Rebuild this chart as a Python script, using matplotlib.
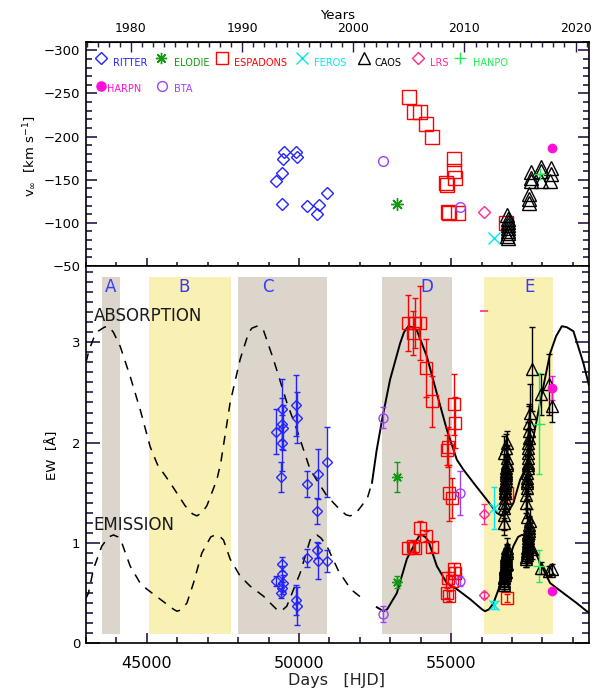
import numpy as np
import matplotlib
matplotlib.use('Agg')
from matplotlib import pyplot as plt
from matplotlib.ticker import MultipleLocator, NullFormatter

plt.rcParams['font.family'] = 'DejaVu Sans'

# ---- model curves, EW [A] against HJD-2400000 ----
abs_day = [43000, 43100, 43250, 43400, 43600, 43738, 43900, 44123, 44451, 44780,
           45108, 45350, 45766, 46259, 46500, 46643, 46800, 46972, 47300, 47430,
           47738, 48066, 48340, 48450, 48615, 48750, 48832, 49160, 49600, 49929,
           50258, 50367, 50915, 51352, 51550, 51681, 51850, 52010, 52250, 52400,
           52550, 52750, 52995, 53324, 53450, 53597, 53720, 53872, 54201, 54530,
           54858, 55187, 55405, 55733, 56172, 56500, 56610, 56720, 56880, 57048,
           57267, 57540, 57925, 58253, 58450, 58638, 58800, 59019, 59348, 59530]
abs_ew = [2.80, 2.92, 3.04, 3.11, 3.15, 3.16, 3.10, 2.96, 2.66, 2.33,
          1.96, 1.78, 1.60, 1.37, 1.29, 1.27, 1.30, 1.37, 1.63, 1.80,
          2.40, 2.83, 3.09, 3.14, 3.16, 3.15, 3.12, 2.83, 2.40, 2.13,
          1.83, 1.73, 1.47, 1.33, 1.28, 1.27, 1.29, 1.35, 1.45, 1.60,
          1.92, 2.26, 2.63, 2.99, 3.10, 3.16, 3.15, 3.12, 2.86, 2.49,
          2.13, 1.83, 1.73, 1.60, 1.43, 1.30, 1.28, 1.27, 1.31, 1.40,
          1.63, 1.80, 2.40, 2.89, 3.06, 3.16, 3.15, 3.11, 2.79, 2.57]
em_day = [43000, 43081, 43245, 43521, 43750, 43903, 44050, 44178, 44451, 44780,
          45000, 45437, 45874, 45986, 46100, 46315, 46532, 46807, 47100, 47244,
          47380, 47518, 47737, 48066, 48395, 48832, 49160, 49325, 49450, 49600,
          50038, 50366, 50480, 50586, 50720, 50915, 51300, 51700, 51900, 52118,
          52558, 52777, 52900, 53215, 53544, 53873, 53950, 54037, 54150, 54254,
          54530, 54859, 55187, 55624, 56009, 56117, 56250, 56390, 56719, 57048,
          57200, 57323, 57450, 57596, 57925, 58253, 58691, 59130, 59458, 59530]
em_ew = [0.45, 0.50, 0.74, 0.97, 1.06, 1.08, 1.06, 1.00, 0.77, 0.60,
         0.54, 0.44, 0.34, 0.32, 0.33, 0.40, 0.60, 0.90, 1.06, 1.08,
         1.07, 1.03, 0.84, 0.67, 0.57, 0.47, 0.37, 0.32, 0.33, 0.37,
         0.70, 1.03, 1.07, 1.08, 1.05, 0.97, 0.72, 0.54, 0.49, 0.44,
         0.36, 0.32, 0.34, 0.50, 0.84, 1.03, 1.07, 1.08, 1.06, 1.02,
         0.77, 0.60, 0.54, 0.44, 0.34, 0.32, 0.34, 0.40, 0.67, 0.97,
         1.06, 1.08, 1.07, 1.03, 0.80, 0.60, 0.50, 0.40, 0.32, 0.31]
model_switch = 52400   # dashed before, solid after

# ---- phases ----
phase_names = ['A', 'B', 'C', 'D', 'E']
phase_start = [43531, 45076, 48010, 52742, 56084]
phase_end = [44123, 47770, 50915, 55033, 58351]
phase_label_day = [43794, 46226, 48963, 54201, 57572]
phase_color = ['#dbd5cc', '#f9f0b3', '#dbd5cc', '#dbd5cc', '#f9f0b3']

# ---- terminal velocity (top panel) ----
ritter_vday = [49259, 49446, 49489, 49512, 49893, 49932, 49446, 50274, 50655, 50590, 50935]
ritter_v = [-149, -158, -174, -182, -182, -176, -122, -120, -121, -110, -135]
elodie_vday = [53229]
elodie_v = [-122]
esp_vday = [53609, 53787, 53991, 54168, 54372, 55100, 55095, 55118, 54878, 54835,
            54901, 54927, 55220, 56807]
esp_v = [-246, -228, -228, -214, -199, -174, -160, -152, -144, -146, -113, -111, -111, -100]
feros_vday = [56400]
feros_v = [-82]
caos_vday = [56850, 56860, 56870, 56855, 56865, 56875, 56860, 56850, 56870,
             57560, 57570, 57555, 57630, 57625, 57635, 57948, 57950, 57945,
             58266, 58270, 58262]
caos_v = [-109, -105, -101, -97, -94, -91, -88, -85, -82,
          -133, -128, -123, -159, -152, -148, -165, -160, -148,
          -163, -157, -148]
lrs_vday = [56070]
lrs_v = [-112]
hanpo_vday = [57924]
hanpo_v = [-157]
harpn_vday = [58302]
harpn_v = [-187]
bta_vday = [52745, 55282]
bta_v = [-172, -118]

# ---- equivalent widths (bottom panel) ----
ritter_day = [49250, 49440, 49445, 49480, 49440, 49420, 49900, 49920, 50260, 50590, 50620, 50920]
ritter_abs = [2.11, 2.33, 2.19, 2.15, 2.00, 1.66, 2.37, 2.25, 1.59, 1.32, 1.69, 1.81]
ritter_abs_err = [0.22, 0.30, 0.25, 0.22, 0.28, 0.15, 0.30, 0.25, 0.13, 0.13, 0.25, 0.35]
ritter_em = [0.62, 0.79, 0.69, 0.60, 0.55, 0.50, 0.43, 0.37, 0.85, 0.93, 0.82, 0.82]
ritter_em_err = [0.05, 0.07, 0.08, 0.08, 0.06, 0.05, 0.15, 0.19, 0.09, 0.08, 0.18, 0.11]

elodie_day = [53230]
elodie_abs = [1.66]
elodie_abs_err = [0.15]
elodie_em = [0.61]
elodie_em_err = [0.06]

esp_day = [53596, 53816, 53981, 53761, 54178, 54365, 55098, 55131, 54911, 54858, 54944, 55022, 56829]
esp_abs = [3.19, 3.19, 3.19, 3.09, 2.74, 2.41, 2.38, 2.20, 1.96, 1.93, 1.50, 1.45, 1.50]
esp_abs_err = [0.28, 0.25, 0.37, 0.22, 0.29, 0.25, 0.30, 0.25, 0.20, 0.15, 0.28, 0.20, 0.10]
esp_em = [0.95, 0.95, 1.15, 0.97, 1.07, 0.96, 0.74, 0.70, 0.65, 0.50, 0.47, 0.62, 0.45]
esp_em_err = [0.06, 0.05, 0.07, 0.05, 0.05, 0.05, 0.06, 0.06, 0.06, 0.05, 0.05, 0.05, 0.04]

bta_day = [52750, 55290]
bta_abs = [2.25, 1.50]
bta_abs_err = [0.10, 0.22]
bta_em = [0.29, 0.62]
bta_em_err = [0.08, 0.05]

feros_day = [56420]
feros_abs = [1.35]
feros_abs_err = [0.21]
feros_em = [0.38]
feros_em_err = [0.04]

lrs_day = [56080]
lrs_abs = [1.29]
lrs_abs_err = [0.10]
lrs_em = [0.48]
lrs_em_err = [0.03]
lrs_limit_day = [56080]
lrs_limit = [3.31]

hanpo_day = [57902]
hanpo_abs = [2.19]
hanpo_abs_err = [0.50]
hanpo_em = [0.77]
hanpo_em_err = [0.16]

harpn_day = [58308]
harpn_abs = [2.54]
harpn_abs_err = [0.12]
harpn_em = [0.52]
harpn_em_err = [0.02]

caos_day = [56725, 56735, 56745, 56750, 56760, 56765, 56770, 56775, 56780, 56785, 56790,
            56795, 56800, 56805, 56810, 56815, 56820, 56830, 56840, 56750, 56790, 56830,
            57460, 57470, 57480, 57490, 57500, 57505, 57510, 57515, 57520, 57525, 57530,
            57540, 57550, 57560, 57570, 57580, 57490, 57530,
            57670, 57948, 58308, 58230]
caos_abs = [1.20, 1.28, 1.35, 1.40, 1.45, 1.50, 1.52, 1.55, 1.58, 1.60, 1.62,
            1.65, 1.68, 1.70, 1.72, 1.75, 1.78, 1.80, 1.85, 1.90, 1.95, 2.00,
            1.40, 1.48, 1.55, 1.60, 1.65, 1.70, 1.75, 1.80, 1.85, 1.90, 1.95,
            2.00, 2.05, 2.12, 2.20, 2.30, 1.62, 1.78,
            2.73, 2.48, 2.36, 2.58]
caos_abs_err = [0.12, 0.15, 0.10, 0.18, 0.14, 0.16, 0.12, 0.20, 0.15, 0.13, 0.17,
                0.12, 0.18, 0.14, 0.16, 0.12, 0.19, 0.15, 0.13, 0.17, 0.14, 0.12,
                0.15, 0.18, 0.20, 0.16, 0.22, 0.18, 0.25, 0.20, 0.17, 0.23, 0.19,
                0.21, 0.16, 0.24, 0.18, 0.28, 0.15, 0.20,
                0.42, 0.20, 0.15, 0.30]
caos_em = [0.58, 0.60, 0.62, 0.65, 0.68, 0.70, 0.72, 0.74, 0.75, 0.76, 0.78,
           0.80, 0.82, 0.84, 0.86, 0.88, 0.90, 0.92, 0.95, 0.66, 0.71, 0.79,
           0.84, 0.86, 0.88, 0.90, 0.92, 0.95, 0.98, 1.00, 1.02, 1.05, 1.08,
           1.10, 1.12, 1.15, 1.18, 1.22, 1.26, 0.96,
           0.94, 0.75, 0.74, 0.72]
caos_em_err = [0.06, 0.08, 0.05, 0.09, 0.07, 0.10, 0.06, 0.08, 0.07, 0.09, 0.06,
               0.08, 0.10, 0.07, 0.09, 0.06, 0.08, 0.07, 0.10, 0.06, 0.08, 0.07,
               0.08, 0.10, 0.07, 0.12, 0.09, 0.08, 0.11, 0.10, 0.07, 0.12, 0.09,
               0.10, 0.08, 0.11, 0.09, 0.12, 0.08, 0.10,
               0.10, 0.06, 0.05, 0.05]

# ---- legend ----
legend_names = ['RITTER', 'ELODIE', 'ESPADONS', 'FEROS', 'CAOS', 'LRS', 'HANPO', 'HARPN', 'BTA']

c_ritter = '#2424ff'
c_elodie = '#109a10'
c_esp = '#ff0000'
c_feros = '#00e8f0'
c_caos = '#000000'
c_lrs = '#ff2a90'
c_hanpo = '#20ee50'
c_harpn = '#ff10d8'
c_bta = '#a040ff'
asterisk = (8, 2, 0)

styles = {
    'RITTER': (c_ritter, 'D', 6.0, 5.2, False),
    'ELODIE': (c_elodie, asterisk, 9.0, 7.5, False),
    'ESPADONS': (c_esp, 's', 9.5, 8.3, False),
    'FEROS': (c_feros, 'x', 8.5, 7.5, False),
    'CAOS': (c_caos, '^', 10.0, 8.6, False),
    'LRS': (c_lrs, 'D', 6.0, 5.2, False),
    'HANPO': (c_hanpo, '+', 9.0, 8.0, False),
    'HARPN': (c_harpn, 'o', 6.0, 6.0, True),
    'BTA': (c_bta, 'o', 7.0, 6.5, False),
}

top_data = {
    'RITTER': (ritter_vday, ritter_v), 'ELODIE': (elodie_vday, elodie_v),
    'ESPADONS': (esp_vday, esp_v), 'FEROS': (feros_vday, feros_v),
    'CAOS': (caos_vday, caos_v), 'LRS': (lrs_vday, lrs_v),
    'HANPO': (hanpo_vday, hanpo_v), 'HARPN': (harpn_vday, harpn_v),
    'BTA': (bta_vday, bta_v),
}
bottom_data = {
    'RITTER': (ritter_day, ritter_abs, ritter_abs_err, ritter_em, ritter_em_err),
    'ELODIE': (elodie_day, elodie_abs, elodie_abs_err, elodie_em, elodie_em_err),
    'ESPADONS': (esp_day, esp_abs, esp_abs_err, esp_em, esp_em_err),
    'BTA': (bta_day, bta_abs, bta_abs_err, bta_em, bta_em_err),
    'LRS': (lrs_day, lrs_abs, lrs_abs_err, lrs_em, lrs_em_err),
    'FEROS': (feros_day, feros_abs, feros_abs_err, feros_em, feros_em_err),
    'CAOS': (caos_day, caos_abs, caos_abs_err, caos_em, caos_em_err),
    'HANPO': (hanpo_day, hanpo_abs, hanpo_abs_err, hanpo_em, hanpo_em_err),
    'HARPN': (harpn_day, harpn_abs, harpn_abs_err, harpn_em, harpn_em_err),
}


def d2y(d):
    return 1980.0 + (np.asarray(d, dtype=float) - 44480.0) / 365.25


def y2d(y):
    return 44480.0 + (np.asarray(y, dtype=float) - 1980.0) * 365.25


fig = plt.figure(figsize=(6.06, 6.97), dpi=100)
ax1 = fig.add_axes([0.1419, 0.6184, 0.8300, 0.3218])
ax2 = fig.add_axes([0.1419, 0.0770, 0.8300, 0.5414])
tick_col = '#2b1648'
xlim = (43000, 59530)

# ---------- top panel ----------
for name in legend_names:
    col, mk, ms_top, ms_bot, filled = styles[name]
    d, v = top_data[name]
    ax1.plot(d, v, ls='none', marker=mk, ms=ms_top, mec=col,
             mfc=col if filled else 'none', mew=1.0, color=col)

ax1.set_xlim(*xlim)
ax1.set_ylim(-50, -310)
ax1.yaxis.set_major_locator(MultipleLocator(50))
ax1.yaxis.set_minor_locator(MultipleLocator(10))
ax1.xaxis.set_major_locator(MultipleLocator(5000))
ax1.xaxis.set_minor_locator(MultipleLocator(1000))
ax1.xaxis.set_major_formatter(NullFormatter())
ax1.tick_params(which='both', direction='in', left=True, right=True,
                top=False, bottom=True, color=tick_col, width=1.2)
ax1.tick_params(which='major', length=8, labelsize=9.5, pad=4)
ax1.tick_params(which='minor', length=4)
ax1.tick_params(axis='x', which='major', length=6)
ax1.tick_params(axis='x', which='minor', length=3)
ax1.yaxis.set_major_formatter(plt.FuncFormatter(lambda v, p: '\u2212%d' % abs(v)))

sec = ax1.secondary_xaxis('top', functions=(d2y, y2d))
sec.xaxis.set_major_locator(MultipleLocator(10))
sec.xaxis.set_minor_locator(MultipleLocator(1))
sec.tick_params(which='both', direction='in', color=tick_col, width=1.0)
sec.tick_params(which='major', length=7, labelsize=9, pad=5)
sec.tick_params(which='minor', length=3.5)
sec.set_xlabel('Years', fontsize=9.5, labelpad=2)

# legend keys
leg_x = [0.0292, 0.1485, 0.2710, 0.4304, 0.5519, 0.6606, 0.7435, 0.0292, 0.1505]
leg_tx = [0.0543, 0.1750, 0.2942, 0.4543, 0.5734, 0.6839, 0.7688, 0.0412, 0.1750]
leg_y = [0.9287] * 7 + [0.8038] * 2
leg_ty = [0.907] * 7 + [0.789] * 2
for name, x, tx, y, ty in zip(legend_names, leg_x, leg_tx, leg_y, leg_ty):
    col, mk, ms_top, ms_bot, filled = styles[name]
    ax1.plot([x], [y], transform=ax1.transAxes, ls='none', marker=mk,
             ms=ms_bot + 0.6, mec=col, mfc=col if filled else 'none', mew=1.0,
             clip_on=False)
    ax1.text(tx, ty, name, transform=ax1.transAxes, color=col, fontsize=7,
             ha='left', va='center')

# ---------- bottom panel ----------
for s, e, c in zip(phase_start, phase_end, phase_color):
    ax2.fill_between([s, e], 0.09, 3.65, color=c, lw=0, zorder=0)
for n, d in zip(phase_names, phase_label_day):
    ax2.text(d, 3.55, n, color='#3838ff', fontsize=12, ha='center', va='center')

abs_day = np.array(abs_day)
abs_ew = np.array(abs_ew)
em_day = np.array(em_day)
em_ew = np.array(em_ew)
for dd, ee in ((abs_day, abs_ew), (em_day, em_ew)):
    early = dd <= model_switch
    late = dd >= model_switch
    ax2.plot(dd[early], ee[early], color='black', lw=1.1, ls=(0, (6, 5)), zorder=2)
    ax2.plot(dd[late], ee[late], color='black', lw=1.4, zorder=2)

for name in ['RITTER', 'ELODIE', 'ESPADONS', 'BTA', 'LRS', 'FEROS', 'CAOS', 'HANPO', 'HARPN']:
    col, mk, ms_top, ms_bot, filled = styles[name]
    d, a, ae, m, me = bottom_data[name]
    for val, err in ((a, ae), (m, me)):
        ax2.errorbar(d, val, yerr=err, fmt='none', ecolor=col, elinewidth=1.0,
                     capsize=2.5, capthick=1.0, zorder=3)
        ax2.plot(d, val, ls='none', marker=mk, ms=ms_bot, mec=col,
                 mfc=col if filled else 'none', mew=1.0, zorder=4)
ax2.plot(lrs_limit_day, lrs_limit, ls='none', marker='_', ms=6, mew=1.2, color=c_lrs)

ax2.text(43250, 3.26, 'ABSORPTION', fontsize=12, color='#1a1a1a', va='center', ha='left')
ax2.text(43250, 1.18, 'EMISSION', fontsize=12, color='#1a1a1a', va='center', ha='left')

ax2.set_xlim(*xlim)
ax2.set_ylim(0, 3.76)
ax2.xaxis.set_major_locator(MultipleLocator(5000))
ax2.xaxis.set_minor_locator(MultipleLocator(1000))
ax2.yaxis.set_major_locator(MultipleLocator(1))
ax2.yaxis.set_minor_locator(MultipleLocator(0.1))
ax2.tick_params(which='both', direction='in', left=True, right=True,
                top=False, bottom=True, color=tick_col, width=1.2)
ax2.tick_params(axis='y', which='major', length=10, labelsize=9.5, pad=4)
ax2.tick_params(axis='y', which='minor', length=5)
ax2.tick_params(axis='x', which='major', length=7, labelsize=11.5, pad=9)
ax2.tick_params(axis='x', which='minor', length=4)

for ax in (ax1, ax2):
    for sp in ax.spines.values():
        sp.set_linewidth(1.2)

fig.text(0.556, 0.013, 'Days   [HJD]', fontsize=11.5, ha='center', va='bottom', color='#222222')
fig.text(0.0495, 0.776, r'v$_\infty$  [km s$^{-1}$]', rotation=90, fontsize=9.5,
         ha='center', va='center')
fig.text(0.0875, 0.347, 'EW  [\u00c5]', rotation=90, fontsize=9.5, ha='center', va='center')

fig.savefig('out.png', dpi=100)
